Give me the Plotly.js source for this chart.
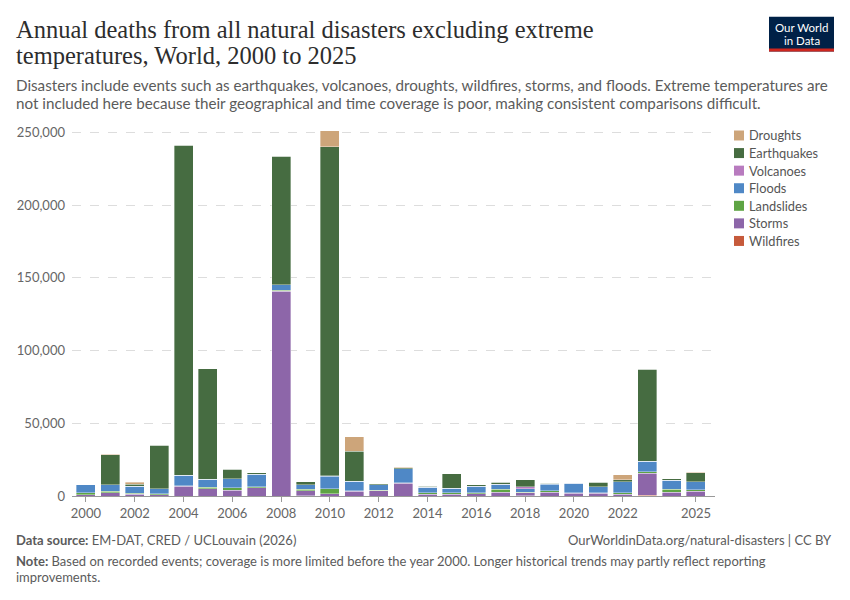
<!DOCTYPE html>
<html>
<head>
<meta charset="utf-8">
<script src="https://cdn.plot.ly/plotly-3.0.1.min.js"></script>
<style>
html,body{margin:0;padding:0;background:#fff;}
#chart{width:850px;height:600px;}
</style>
</head>
<body>
<div id="chart"></div>
<script>
// ---- Data (deaths per year) ----
const years = [2000,2001,2002,2003,2004,2005,2006,2007,2008,2009,2010,2011,2012,2013,2014,2015,2016,2017,2018,2019,2020,2021,2022,2023,2024,2025];
const droughts    = [0,500,1100,0,100,0,200,0,0,0,11000,10100,0,300,0,0,0,0,0,0,0,0,3400,0,0,300];
const earthquakes = [200,20500,1400,29800,227000,75900,6600,900,88200,2100,226100,20600,700,900,700,9800,900,1100,5000,300,300,3000,1400,63400,1100,6200];
const volcanoes   = [0,0,200,0,0,0,0,0,0,0,300,0,0,0,100,0,0,0,1100,100,0,100,0,0,0,0];
const floods      = [5300,4600,4600,3400,7300,5700,6000,8900,3900,3200,8700,6400,3700,9600,3700,3200,4600,3400,2500,4600,6600,4100,7600,7300,6000,5500];
const landslides  = [1500,900,900,700,300,900,1600,500,700,900,3400,300,300,200,1100,1100,500,2100,300,1100,500,500,1100,1100,2100,900];
const storms      = [900,2300,1100,900,6600,5000,4100,5700,140800,3400,1600,3400,3700,8900,1100,1100,1600,2700,2100,2500,1800,1800,1100,15100,2700,3400];
const wildfires   = [0,0,0,0,0,0,0,0,0,200,0,0,0,0,0,0,0,0,200,0,0,0,0,400,0,0];
const tickYears = [2000,2002,2004,2006,2008,2010,2012,2014,2016,2018,2020,2022,2025];
const tickLabels = ["2000","2002","2004","2006","2008","2010","2012","2014","2016","2018","2020","2022","2025"];

const series = [
  {name:"Wildfires",   y:wildfires,   color:"#C65A3B"},
  {name:"Storms",      y:storms,      color:"#8D66A9"},
  {name:"Landslides",  y:landslides,  color:"#5EA444"},
  {name:"Floods",      y:floods,      color:"#4F88C6"},
  {name:"Volcanoes",   y:volcanoes,   color:"#B87BBF"},
  {name:"Earthquakes", y:earthquakes, color:"#466C41"},
  {name:"Droughts",    y:droughts,    color:"#CDA57A"}
];

const traces = series.map(s => ({
  type:"bar", x:years, y:s.y, name:s.name,
  marker:{color:s.color, line:{color:"rgba(255,255,255,0.6)", width:0.6}},
  hoverinfo:"x+y+name", showlegend:false
}));

// ---- Layout geometry ----
const W=850, H=600, L=72, R=135, T=130.5, B=104;
const PW = W-L-R, PH = H-T-B;
const px = v => (v-L)/PW;
const py = v => (H-B-v)/PH;

const font = "Lato, 'Open Sans', sans-serif";
const grey = "#5b5b5b";
const serif = "'Liberation Serif', 'DejaVu Serif', serif";

function ann(text, x, y, size, color, opts){
  return Object.assign({text:text, xref:"paper", yref:"paper", x:px(x), y:py(y),
    xanchor:"left", yanchor:"middle", showarrow:false,
    font:{family:font, size:size, color:color}}, opts||{});
}

const annotations = [
  ann("Annual deaths from all natural disasters excluding extreme", 14, 29, 24.5, "#2d2d2d", {font:{family:serif, size:24.5, color:"#2d2d2d"}}),
  ann("temperatures, World, 2000 to 2025", 14, 55, 24.5, "#2d2d2d", {font:{family:serif, size:24.5, color:"#2d2d2d"}}),
  ann("Disasters include events such as earthquakes, volcanoes, droughts, wildfires, storms, and floods. Extreme temperatures are", 14, 84, 15.2, grey),
  ann("not included here because their geographical and time coverage is poor, making consistent comparisons difficult.", 14, 102, 15.2, grey),
  ann("<b>Data source:</b> EM-DAT, CRED / UCLouvain (2026)", 14, 540, 13, grey),
  ann("OurWorldinData.org/natural-disasters | CC BY", 834, 540, 13, grey, {xanchor:"right"}),
  ann("<b>Note:</b> Based on recorded events; coverage is more limited before the year 2000. Longer historical trends may partly reflect reporting", 14, 561, 13, grey),
  ann("improvements.", 14, 577, 13, grey),
  ann("Our World", 802, 27, 11.5, "#ffffff", {xanchor:"center"}),
  ann("in Data", 802, 40, 11.5, "#ffffff", {xanchor:"center"})
];

const shapes = [
  {type:"rect", xref:"paper", yref:"paper", x0:px(769), x1:px(834), y0:py(16), y1:py(51), fillcolor:"#002147", line:{width:0}, layer:"above"},
  {type:"rect", xref:"paper", yref:"paper", x0:px(769), x1:px(834), y0:py(48), y1:py(51), fillcolor:"#CE261E", line:{width:0}, layer:"above"}
];

// ---- Manual legend (top = Droughts) ----
const legendOrder = series.slice().reverse();
legendOrder.forEach((s, i) => {
  const cy = 135 + i*17.6;
  shapes.push({type:"rect", xref:"paper", yref:"paper", x0:px(734), x1:px(744), y0:py(cy-5), y1:py(cy+5),
               fillcolor:s.color, line:{width:0}});
  annotations.push(ann(s.name, 747, cy, 12.8, "#555"));
});

const layout = {
  width:W, height:H,
  margin:{l:L, r:R, t:T, b:B, pad:0},
  paper_bgcolor:"#fff", plot_bgcolor:"#fff",
  barmode:"stack", bargap:0.22,
  font:{family:font, color:"#666"},
  showlegend:false,
  xaxis:{range:[1999.43, 2025.78], tickmode:"array", tickvals:tickYears, ticktext:tickLabels,
         showgrid:false, zeroline:false, showline:true, linecolor:"#999", linewidth:1,
         ticks:"outside", ticklen:5, tickcolor:"#999",
         tickfont:{family:font, size:13, color:"#666"}, fixedrange:true},
  yaxis:{range:[0, 251000], tickmode:"array", tickvals:[0,50000,100000,150000,200000,250000],
         ticktext:["0","50,000","100,000","150,000","200,000","250,000"],
         showgrid:true, gridcolor:"#dddddd", griddash:"dash", gridwidth:1,
         zeroline:false, showline:false, ticks:"", ticklabelstandoff:6,
         tickfont:{family:font, size:13, color:"#666"}, fixedrange:true},
  annotations:annotations, shapes:shapes
};

Plotly.newPlot("chart", traces, layout, {displayModeBar:false, staticPlot:true});
</script>
</body>
</html>
